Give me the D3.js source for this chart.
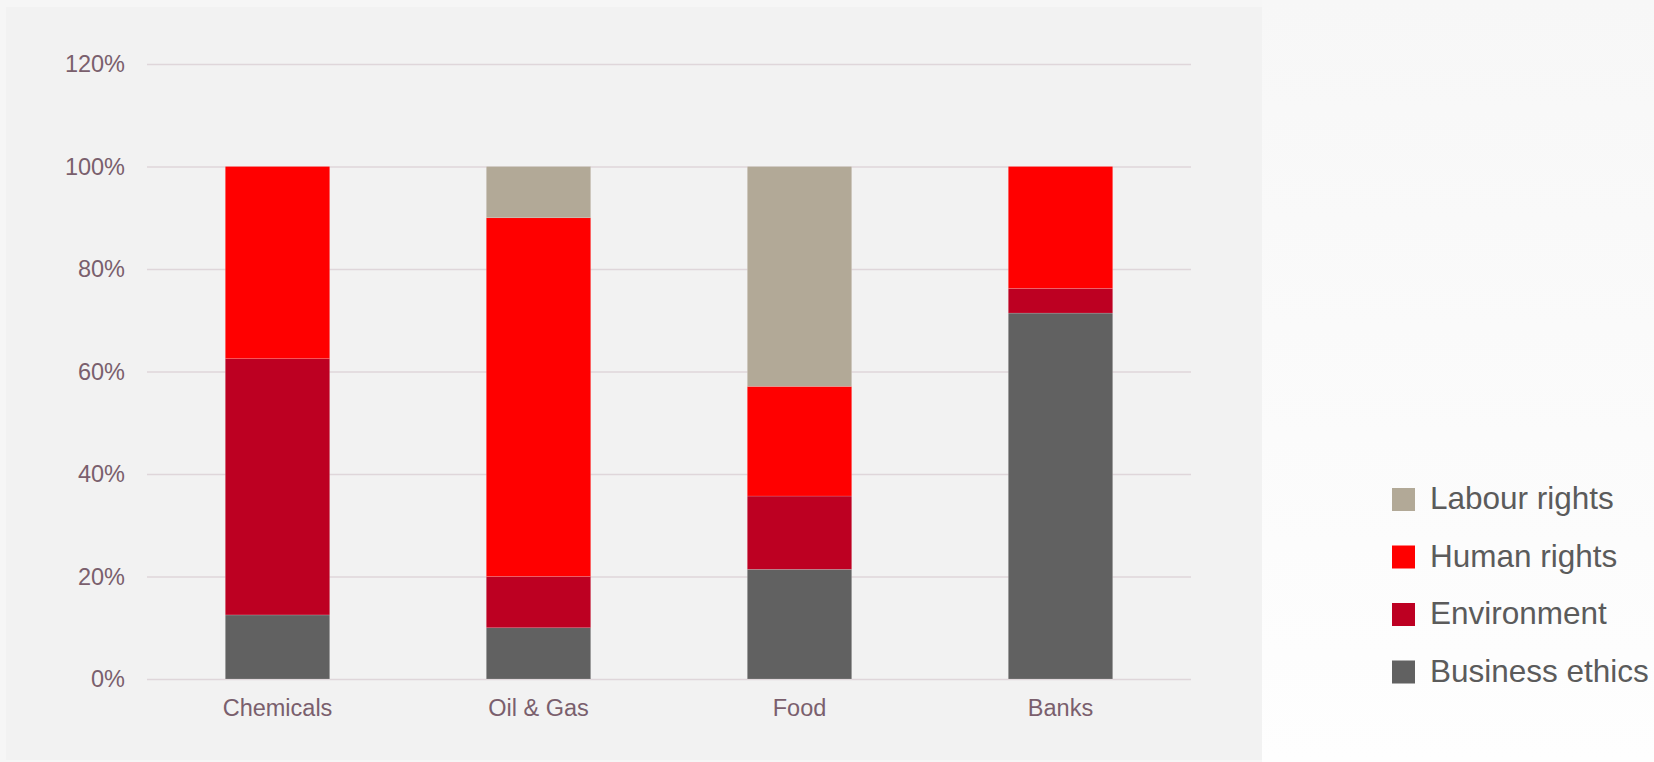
<!DOCTYPE html>
<html>
<head>
<meta charset="utf-8">
<script src="https://cdn.jsdelivr.net/npm/d3@7"></script>
<style>
    body { margin: 0; background: #f6f6f6; }
    svg { display: block; font-family: "Liberation Sans", Arial, sans-serif; }
</style>
</head>
<body>
<div id="chart"></div>
<script>
// Sectors and issue shares (fraction of cases)
const sectors = ["Chemicals", "Oil & Gas", "Food", "Banks"];
const businessEthics = [0.125, 0.10, 0.214, 0.714];
const environment = [0.50, 0.10, 0.143, 0.048];
const humanRights = [0.375, 0.70, 0.214, 0.238];
const labourRights = [0.0, 0.10, 0.429, 0.0];

const seriesNames = ["Business ethics", "Environment", "Human rights", "Labour rights"];
const seriesColors = ["#616161", "#bd0022", "#ff0000", "#b2a997"];
const yTicks = [0, 0.2, 0.4, 0.6, 0.8, 1.0, 1.2];

// Build rows for the stack
const rows = sectors.map((s, i) => ({
    sector: s,
    "Business ethics": businessEthics[i],
    "Environment": environment[i],
    "Human rights": humanRights[i],
    "Labour rights": labourRights[i]
}));

const W = 1654, H = 762;
const margin = {top: 64, right: 463, bottom: 83, left: 147};
const width = W - margin.left - margin.right;
const height = H - margin.top - margin.bottom;

const svg = d3.select("#chart").append("svg")
    .attr("width", W)
    .attr("height", H);

// Backgrounds
const grad = svg.append("defs").append("linearGradient")
    .attr("id", "rightBg")
    .attr("x1", 0).attr("y1", 0).attr("x2", 0).attr("y2", 1);
grad.append("stop").attr("offset", "0%").attr("stop-color", "#f7f7f7");
grad.append("stop").attr("offset", "100%").attr("stop-color", "#fefefe");

svg.append("rect")
    .attr("x", 0).attr("y", 0).attr("width", W).attr("height", H)
    .attr("fill", "#f6f6f6");
svg.append("rect")
    .attr("x", 1262).attr("y", 0).attr("width", W - 1262).attr("height", H)
    .attr("fill", "url(#rightBg)");
svg.append("rect")
    .attr("x", 6).attr("y", 7).attr("width", 1256).attr("height", 753)
    .attr("fill", "#f2f2f2");

const g = svg.append("g")
    .attr("transform", `translate(${margin.left},${margin.top})`);

// Scales
const x = d3.scaleBand()
    .domain(sectors)
    .range([0, width])
    .paddingInner(0.6)
    .paddingOuter(0.3);

const y = d3.scaleLinear()
    .domain([0, 1.2])
    .range([height, 0]);

const color = d3.scaleOrdinal()
    .domain(seriesNames)
    .range(seriesColors);

// Y axis with gridlines
const yAxis = g.append("g")
    .call(d3.axisLeft(y)
        .tickValues(yTicks)
        .tickFormat(d3.format(".0%"))
        .tickSize(-width)
        .tickPadding(22));
yAxis.select(".domain").remove();
yAxis.selectAll(".tick line")
    .attr("stroke", "#dfd6da")
    .attr("stroke-width", 1.6);
yAxis.selectAll(".tick text")
    .attr("fill", "#7a5f6d")
    .style("font-size", "23.5px");

// Stacked bars
const stacked = d3.stack().keys(seriesNames)(rows);

g.append("g")
    .selectAll("g")
    .data(stacked)
    .join("g")
    .attr("fill", d => color(d.key))
    .selectAll("rect")
    .data(d => d)
    .join("rect")
    .attr("x", d => x(d.data.sector))
    .attr("y", d => y(d[1]))
    .attr("width", x.bandwidth())
    .attr("height", d => y(d[0]) - y(d[1]))
    .attr("stroke", "#ffffff")
    .attr("stroke-opacity", 0.25)
    .attr("stroke-width", 0.6);

// X axis
const xAxis = g.append("g")
    .attr("transform", `translate(0,${height})`)
    .call(d3.axisBottom(x).tickSize(0).tickPadding(20));
xAxis.select(".domain").remove();
xAxis.selectAll(".tick text")
    .attr("fill", "#7a5f6d")
    .style("font-size", "23.5px");

// Legend (top to bottom: reversed stack order)
const legendItems = seriesNames.slice().reverse();
const legend = svg.append("g")
    .attr("transform", "translate(1392,488)");

const item = legend.selectAll("g")
    .data(legendItems)
    .join("g")
    .attr("transform", (d, i) => `translate(0,${i * 57.5})`);

item.append("rect")
    .attr("width", 23)
    .attr("height", 23)
    .attr("fill", d => color(d));

item.append("text")
    .attr("x", 38)
    .attr("y", 21)
    .attr("fill", "#5b5b5b")
    .style("font-size", "31.5px")
    .text(d => d);
</script>
</body>
</html>
